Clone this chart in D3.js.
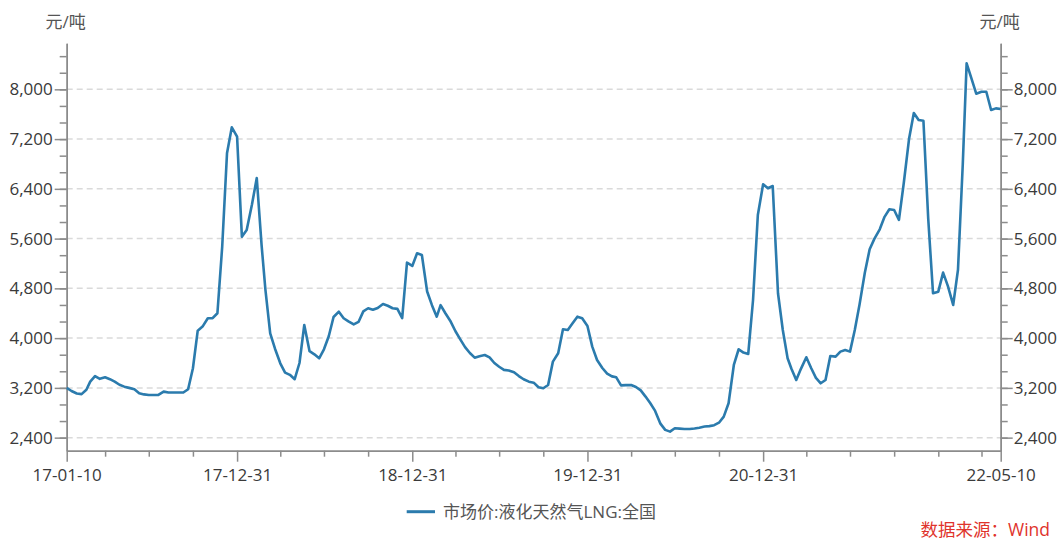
<!DOCTYPE html>
<html>
<head>
<meta charset="utf-8">
<script src="https://cdn.jsdelivr.net/npm/d3@7"></script>
<style>
  body { margin: 0; background: #fff; }
  svg text { font-family: "Open Sans", "Noto Sans CJK SC", sans-serif; }
</style>
</head>
<body>
<div></div>
<script>
let dates = [
  "2017-01-10","2017-01-20","2017-01-31","2017-02-10","2017-02-20","2017-02-28","2017-03-10","2017-03-20","2017-03-31",
  "2017-04-10","2017-04-20","2017-04-30","2017-05-10","2017-05-20","2017-05-31","2017-06-10","2017-06-20","2017-06-30",
  "2017-07-10","2017-07-20","2017-07-31","2017-08-10","2017-08-20","2017-08-31","2017-09-10","2017-09-20","2017-09-30",
  "2017-10-10","2017-10-20","2017-10-31","2017-11-10","2017-11-20","2017-11-30","2017-12-10","2017-12-20","2017-12-31",
  "2018-01-10","2018-01-20","2018-01-31","2018-02-10","2018-02-20","2018-02-28","2018-03-10","2018-03-20","2018-03-31",
  "2018-04-10","2018-04-20","2018-04-30","2018-05-10","2018-05-20","2018-05-31","2018-06-10","2018-06-20","2018-06-30",
  "2018-07-10","2018-07-20","2018-07-31","2018-08-10","2018-08-20","2018-08-31","2018-09-10","2018-09-20","2018-09-30",
  "2018-10-10","2018-10-20","2018-10-31","2018-11-10","2018-11-20","2018-11-30","2018-12-10","2018-12-20","2018-12-31",
  "2019-01-10","2019-01-20","2019-01-31","2019-02-10","2019-02-20","2019-02-28","2019-03-10","2019-03-20","2019-03-31",
  "2019-04-10","2019-04-20","2019-04-30","2019-05-10","2019-05-20","2019-05-31","2019-06-10","2019-06-20","2019-06-30",
  "2019-07-10","2019-07-20","2019-07-31","2019-08-10","2019-08-20","2019-08-31","2019-09-10","2019-09-20","2019-09-30",
  "2019-10-10","2019-10-20","2019-10-31","2019-11-10","2019-11-20","2019-11-30","2019-12-10","2019-12-20","2019-12-31",
  "2020-01-10","2020-01-20","2020-01-31","2020-02-10","2020-02-20","2020-02-29","2020-03-10","2020-03-20","2020-03-31",
  "2020-04-10","2020-04-20","2020-04-30","2020-05-10","2020-05-20","2020-05-31","2020-06-10","2020-06-20","2020-06-30",
  "2020-07-10","2020-07-20","2020-07-31","2020-08-10","2020-08-20","2020-08-31","2020-09-10","2020-09-20","2020-09-30",
  "2020-10-10","2020-10-20","2020-10-31","2020-11-10","2020-11-20","2020-11-30","2020-12-10","2020-12-20","2020-12-31",
  "2021-01-10","2021-01-20","2021-01-31","2021-02-10","2021-02-20","2021-02-28","2021-03-10","2021-03-20","2021-03-31",
  "2021-04-10","2021-04-20","2021-04-30","2021-05-10","2021-05-20","2021-05-31","2021-06-10","2021-06-20","2021-06-30",
  "2021-07-10","2021-07-20","2021-07-31","2021-08-10","2021-08-20","2021-08-31","2021-09-10","2021-09-20","2021-09-30",
  "2021-10-10","2021-10-20","2021-10-31","2021-11-10","2021-11-20","2021-11-30","2021-12-10","2021-12-20","2021-12-31",
  "2022-01-10","2022-01-20","2022-01-31","2022-02-10","2022-02-20","2022-02-28","2022-03-10","2022-03-20","2022-03-31",
  "2022-04-10","2022-04-20","2022-04-30","2022-05-10"
]

let prices = [
  3200,3150,3110,3100,3170,3300,3390,3345,3370,
  3340,3300,3250,3220,3200,3178,3114,3095,3086,
  3086,3086,3140,3125,3125,3125,3125,3178,3515,
  4120,4185,4320,4320,4400,5470,6971,7389,7238,
  5631,5738,6150,6574,5500,4780,4078,3830,3595,
  3445,3410,3340,3600,4211,3790,3740,3676,3820,
  4030,4340,4425,4320,4270,4220,4260,4430,4480,
  4455,4485,4549,4520,4480,4470,4320,5213,5160,
  5364,5336,4750,4530,4345,4530,4400,4280,4110,
  3980,3855,3760,3686,3710,3729,3690,3600,3540,
  3490,3480,3450,3390,3339,3300,3284,3210,3194,
  3247,3622,3757,4142,4131,4240,4345,4320,4195,
  3863,3649,3520,3430,3385,3370,3240,3245,3247,
  3215,3160,3060,2952,2830,2625,2525,2497,2551,
  2545,2540,2540,2548,2560,2578,2585,2600,2640,
  2738,2953,3568,3821,3767,3745,4613,5980,6473,
  6409,6446,4721,4131,3676,3508,3327,3510,3692,
  3520,3360,3274,3327,3713,3702,3783,3810,3783,
  4131,4545,5055,5430,5600,5750,5950,6071,6060,
  5900,6490,7200,7620,7506,7495,5920,4721,4747,
  5053,4835,4533,5100,6800,8418,8177,7930,7961,
  7961,7667,7694,7683
]

let yMajorTicks = [2400, 3200, 4000, 4800, 5600, 6400, 7200, 8000]
let yMinorStep = 800 / 3
let xLabelDates = ["2017-01-10", "2017-12-31", "2018-12-31", "2019-12-31", "2020-12-31", "2022-05-10"]
let xMinorDates = [
  "2017-03-31","2017-06-30","2017-09-30",
  "2018-03-31","2018-06-30","2018-09-30",
  "2019-03-31","2019-06-30","2019-09-30",
  "2020-03-31","2020-06-30","2020-09-30",
  "2021-03-31","2021-06-30","2021-09-30","2021-12-31",
  "2022-03-31"
]
let seriesName = "市场价:液化天然气LNG:全国"
let unitLabel = "元/吨"
let sourceLabel = "数据来源：Wind"

let w = 1057, h = 542
let padLeft = 66.7, padRight = 1000.7, padTop = 43.3, padBottom = 450.7
let lineColor = "#2b7bad"
let axisColor = "#8c8c8c"
let textColor = "#3a3a3a"

let parse = d3.timeParse("%Y-%m-%d")
let data = dates.map((d, i) => [parse(d), prices[i]])

let svg = d3.select("div").append("svg").attr("width", w).attr("height", h)

let xScale = d3.scaleTime().domain([parse(dates[0]), parse(dates[dates.length - 1])]).range([padLeft, padRight])
let yScale = d3.scaleLinear().domain([2190, 8740]).range([padBottom, padTop])

let yMinor = d3.range(2400, 8740, yMinorStep)

// grid
svg.append("g").selectAll("line")
  .data(yMajorTicks)
  .enter()
  .append("line")
  .attr("x1", padLeft).attr("x2", padRight)
  .attr("y1", d => yScale(d)).attr("y2", d => yScale(d))
  .attr("stroke", "#dadada")
  .attr("stroke-width", 1.5)
  .attr("stroke-dasharray", "6,4")

function styleAxis(g) {
  g.selectAll("path, line").attr("stroke", axisColor).attr("stroke-width", 1.5)
  g.selectAll("text").attr("fill", textColor).style("font-size", "17px")
}

// left axis
svg.append("g").attr("transform", "translate(" + padLeft + ",0)")
  .call(d3.axisLeft(yScale).tickValues(yMinor).tickSize(7).tickSizeOuter(0).tickFormat(""))
  .call(styleAxis)
svg.append("g").attr("transform", "translate(" + padLeft + ",0)")
  .call(d3.axisLeft(yScale).tickValues(yMajorTicks).tickSize(12).tickSizeOuter(0).tickPadding(2).tickFormat(d3.format(",")))
  .call(styleAxis)

// right axis
svg.append("g").attr("transform", "translate(" + padRight + ",0)")
  .call(d3.axisRight(yScale).tickValues(yMinor).tickSize(7).tickSizeOuter(0).tickFormat(""))
  .call(styleAxis)
svg.append("g").attr("transform", "translate(" + padRight + ",0)")
  .call(d3.axisRight(yScale).tickValues(yMajorTicks).tickSize(12).tickSizeOuter(0).tickPadding(1).tickFormat(d3.format(",")))
  .call(styleAxis)

// bottom axis
svg.append("g").attr("transform", "translate(0," + padBottom + ")")
  .call(d3.axisBottom(xScale).tickValues(xMinorDates.map(parse)).tickSize(6).tickSizeOuter(0).tickFormat(""))
  .call(styleAxis)
svg.append("g").attr("transform", "translate(0," + padBottom + ")")
  .call(d3.axisBottom(xScale).tickValues(xLabelDates.map(parse)).tickSize(11).tickSizeOuter(0).tickFormat(d3.timeFormat("%y-%m-%d")))
  .call(styleAxis)
  .call(g => g.selectAll("text").attr("dy", "0").attr("y", 30))

// line
let line = d3.line().x(d => xScale(d[0])).y(d => yScale(d[1]))
svg.append("path")
  .datum(data)
  .attr("d", line)
  .attr("fill", "none")
  .attr("stroke", lineColor)
  .attr("stroke-width", 2.6)
  .attr("stroke-linejoin", "round")

// unit labels
svg.append("text").attr("x", padLeft - 1).attr("y", 28).attr("text-anchor", "middle")
  .style("font-size", "17px").attr("fill", "#555").text(unitLabel)
svg.append("text").attr("x", padRight - 1).attr("y", 28).attr("text-anchor", "middle")
  .style("font-size", "17px").attr("fill", "#555").text(unitLabel)

// legend
svg.append("line").attr("x1", 406.7).attr("x2", 435).attr("y1", 511.7).attr("y2", 511.7)
  .attr("stroke", lineColor).attr("stroke-width", 3)
svg.append("text").attr("x", 443).attr("y", 511.7).attr("dy", "0.35em")
  .style("font-size", "17px").attr("fill", "#555").text(seriesName)

// source
svg.append("text").attr("x", 1050).attr("y", 536).attr("text-anchor", "end")
  .style("font-size", "17.5px").attr("fill", "#e0332c").text(sourceLabel)
</script>
</body>
</html>
